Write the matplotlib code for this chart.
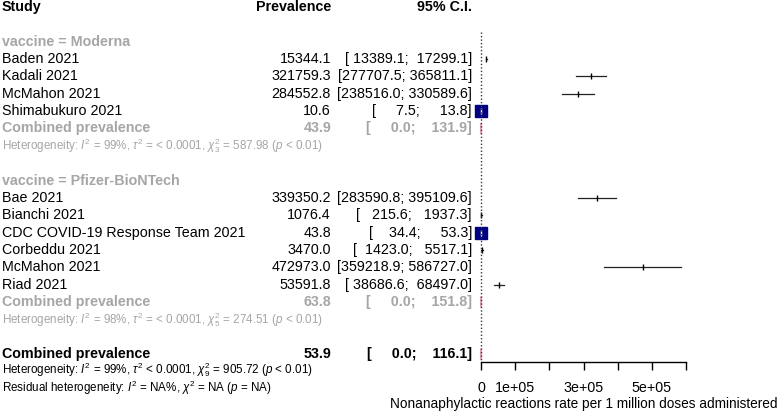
import matplotlib
matplotlib.use('Agg')
import matplotlib.pyplot as plt
import matplotlib.transforms as mtransforms

plt.rcParams['font.family'] = 'Liberation Sans'
plt.rcParams['mathtext.fontset'] = 'custom'
plt.rcParams['mathtext.rm'] = 'Liberation Sans'
plt.rcParams['mathtext.it'] = 'Liberation Sans:italic'

# data
moderna_studies = ['Baden 2021', 'Kadali 2021', 'McMahon 2021', 'Shimabukuro 2021']
moderna_prev = [15344.1, 321759.3, 284552.8, 10.6]
moderna_lo = [13389.1, 277707.5, 238516.0, 7.5]
moderna_hi = [17299.1, 365811.1, 330589.6, 13.8]
moderna_comb = [43.9, 0.0, 131.9]
moderna_het = r'Heterogeneity: $I^2$ = 99%, $\tau^2$ = < 0.0001, $\chi^2_3$ = 587.98 ($p$ < 0.01)'

pfizer_studies = ['Bae 2021', 'Bianchi 2021', 'CDC COVID-19 Response Team 2021',
                  'Corbeddu 2021', 'McMahon 2021', 'Riad 2021']
pfizer_prev = [339350.2, 1076.4, 43.8, 3470.0, 472973.0, 53591.8]
pfizer_lo = [283590.8, 215.6, 34.4, 1423.0, 359218.9, 38686.6]
pfizer_hi = [395109.6, 1937.3, 53.3, 5517.1, 586727.0, 68497.0]
pfizer_comb = [63.8, 0.0, 151.8]
pfizer_het = r'Heterogeneity: $I^2$ = 98%, $\tau^2$ = < 0.0001, $\chi^2_5$ = 274.51 ($p$ < 0.01)'

overall_comb = [53.9, 0.0, 116.1]
overall_het = r'Heterogeneity: $I^2$ = 99%, $\tau^2$ < 0.0001, $\chi^2_9$ = 905.72 ($p$ < 0.01)'
resid_het = r'Residual heterogeneity: $I^2$ = NA%, $\chi^2$ = NA ($p$ = NA)'

xticks = [0, 1e5, 2e5, 3e5, 4e5, 5e5, 6e5]
xticklabels = ['0', '1e+05', '', '3e+05', '', '5e+05', '']
xlabel = 'Nonanaphylactic reactions rate per 1 million doses administered'

W, H = 784, 415
fig = plt.figure(figsize=(W / 100, H / 100), dpi=100)
ax = fig.add_axes([481 / W, 1 - 362 / H, 205 / W, 362 / H])
ax.set_xlim(0, 6e5)
ax.set_ylim(20.46, -0.403)

tr = mtransforms.blended_transform_factory(fig.transFigure, ax.transData)
def px(x):
    return x / W

grey = '#a6a6a6'
fs = 10.3
fs_small = 8.4
fs_axis = 10.3

def ci(lo, hi):
    return '[%8.1f; %8.1f]' % (lo, hi)

def row_text(row, name, est, lo, hi, color='black', weight='normal'):
    ax.text(px(2), row, name, transform=tr, ha='left', va='center',
            fontsize=fs, color=color, fontweight=weight, clip_on=False)
    ax.text(px(331), row, '%.1f' % est, transform=tr, ha='right', va='center',
            fontsize=fs, color=color, fontweight=weight, clip_on=False)
    ax.text(px(472), row, ci(lo, hi), transform=tr, ha='right', va='center',
            fontsize=fs, color=color, fontweight=weight, clip_on=False)

# headers
ax.text(px(2), 0, 'Study', transform=tr, ha='left', va='center', fontsize=fs,
        fontweight='bold', clip_on=False)
ax.text(px(331), 0, 'Prevalence', transform=tr, ha='right', va='center',
        fontsize=fs, fontweight='bold', clip_on=False)
ax.text(px(472), 0, '95% C.I.', transform=tr, ha='right', va='center',
        fontsize=fs, fontweight='bold', clip_on=False)

def study_mark(row, est, lo, hi):
    if hi - lo < 100:
        ax.plot([est], [row], marker='s', ms=9, color='#000080', clip_on=False)
        ax.plot([lo, hi], [row, row], color='white', lw=1, clip_on=False)
        ax.plot([est], [row], marker='|', ms=4, color='white', mew=1, clip_on=False)
    else:
        ax.plot([lo, hi], [row, row], color='#222222', lw=0.9, clip_on=False)
        ax.plot([est], [row], marker='|', ms=4.5, color='black', mew=1, clip_on=False)

def diamond(row, est, lo, hi):
    ax.fill([lo, est, hi, est], [row, row - 0.3, row, row + 0.3],
            facecolor='#e8a0b8', edgecolor='#e8a0b8', lw=1.5, clip_on=False)

groups = [('vaccine = Moderna', moderna_studies, moderna_prev, moderna_lo,
           moderna_hi, moderna_comb, moderna_het, 2),
          ('vaccine = Pfizer-BioNTech', pfizer_studies, pfizer_prev, pfizer_lo,
           pfizer_hi, pfizer_comb, pfizer_het, 10)]

for title, names, prev, lo, hi, comb, het, r0 in groups:
    ax.text(px(2), r0, title, transform=tr, ha='left', va='center', fontsize=fs,
            color=grey, fontweight='bold', clip_on=False)
    for i in range(len(names)):
        r = r0 + 1 + i
        row_text(r, names[i], prev[i], lo[i], hi[i])
        study_mark(r, prev[i], lo[i], hi[i])
    rc = r0 + 1 + len(names)
    row_text(rc, 'Combined prevalence', comb[0], comb[1], comb[2],
             color=grey, weight='bold')
    diamond(rc, *comb)
    ax.text(px(2), rc + 1, het, transform=tr, ha='left', va='center',
            fontsize=fs_small, color=grey, clip_on=False)

row_text(20, 'Combined prevalence', overall_comb[0], overall_comb[1],
         overall_comb[2], weight='bold')
diamond(20, *overall_comb)
ax.text(px(2), 20.9, overall_het, transform=tr, ha='left', va='center',
        fontsize=fs_small, clip_on=False)
ax.text(px(2), 21.95, resid_het, transform=tr, ha='left', va='center',
        fontsize=fs_small, clip_on=False)

ax.plot([0, 0], [1.44, 20.46], color='#333333', ls=(0, (1, 1.5)), lw=1,
        clip_on=False)

for s in ['top', 'right', 'left']:
    ax.spines[s].set_visible(False)
ax.spines['bottom'].set_linewidth(1)
ax.set_yticks([])
ax.set_xticks(xticks)
ax.set_xticklabels(xticklabels, fontsize=fs_axis)
ax.tick_params(axis='x', length=6, width=1, pad=8)
ax.set_xlabel(xlabel, fontsize=9.8, labelpad=1)

fig.savefig('out.png', dpi=100)
